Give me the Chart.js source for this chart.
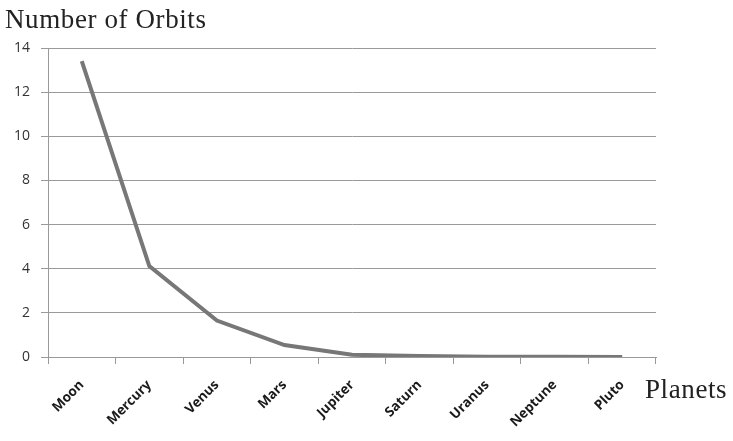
<!DOCTYPE html>
<html>
<head>
<meta charset="utf-8">
<script src="https://cdn.jsdelivr.net/npm/chart.js@4"></script>
<style>
  body { margin: 0; background: #fff; }
  canvas { display: block; }
</style>
</head>
<body>
<canvas id="orbitChart" width="733" height="441"></canvas>
<script>
const planets = ["Moon", "Mercury", "Venus", "Mars", "Jupiter", "Saturn", "Uranus", "Neptune", "Pluto"];
const orbits = [13.4, 4.12, 1.65, 0.54, 0.1, 0.04, 0.015, 0.008, 0.005];
const yTicks = [0, 2, 4, 6, 8, 10, 12, 14];

// axis titles drawn as free text, like the original
const axisTitles = {
  id: "axisTitles",
  afterDraw(chart) {
    const ctx = chart.ctx;
    const area = chart.chartArea;
    ctx.save();
    ctx.fillStyle = "#222";
    ctx.font = "27px 'Liberation Serif'";
    ctx.letterSpacing = "0.6px";
    ctx.textBaseline = "alphabetic";
    ctx.textAlign = "left";
    ctx.fillText("Number of Orbits", 5, 28);
    ctx.fillText("Planets", area.right - 11, 398);
    ctx.restore();
  }
};

window.onload = function () {
  const ctx = document.getElementById("orbitChart").getContext("2d");
  new Chart(ctx, {
    type: "line",
    data: {
      labels: planets,
      datasets: [{
        data: orbits,
        borderColor: "#777777",
        borderWidth: 4,
        pointRadius: 0,
        tension: 0,
        fill: false
      }]
    },
    options: {
      responsive: false,
      animation: false,
      layout: { padding: { top: 48, right: 77, left: 0, bottom: 0 } },
      plugins: {
        legend: { display: false },
        tooltip: { enabled: false }
      },
      scales: {
        x: {
          offset: true,
          grid: {
            offset: true,
            drawOnChartArea: false,
            drawTicks: true,
            tickLength: 7,
            color: "#999"
          },
          border: { color: "#999", width: 1 },
          ticks: {
            minRotation: 45,
            maxRotation: 45,
            color: "#1a1a1a",
            padding: 13,
            font: { family: "'Open Sans'", size: 13.5, weight: "bold" }
          },
          afterFit(scale) { scale.height = 84; }
        },
        y: {
          min: 0,
          max: 14,
          afterBuildTicks(scale) { scale.ticks = yTicks.map(v => ({ value: v })); },
          grid: { color: "#999", lineWidth: 1, tickLength: 7 },
          border: { color: "#999", width: 1 },
          ticks: {
            color: "#333",
            padding: 11,
            font: { family: "'Open Sans'", size: 14 }
          },
          afterFit(scale) { scale.width = 48; }
        }
      }
    },
    plugins: [axisTitles]
  });
};
</script>
</body>
</html>
